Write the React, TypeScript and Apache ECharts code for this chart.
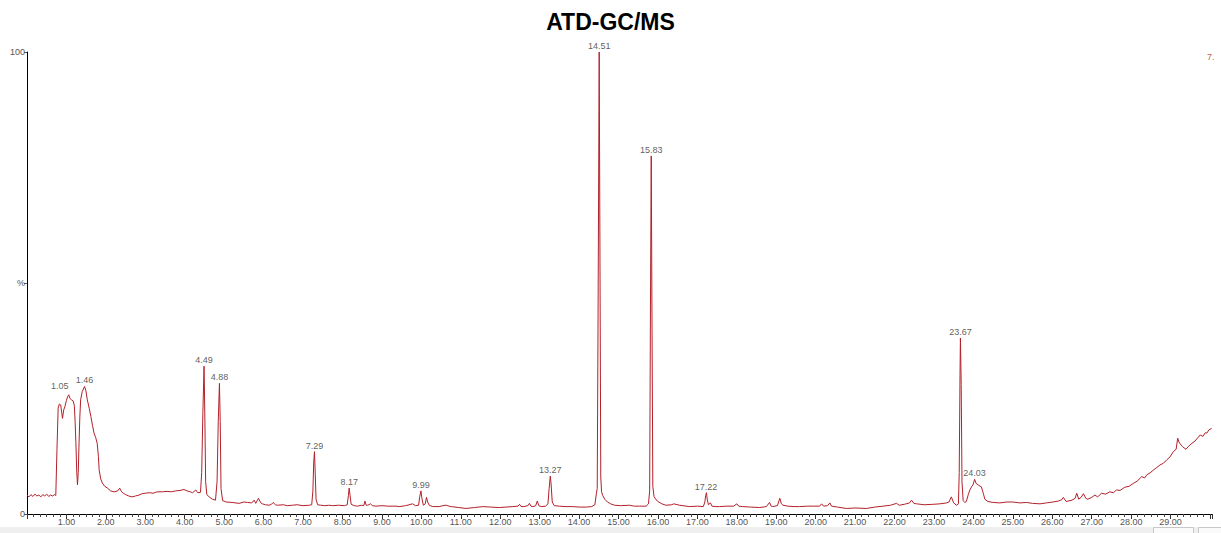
import React, { useEffect, useRef } from "react";
import * as echarts from "echarts";

// Total ion chromatogram: [retention time (min), relative abundance (%)]
const solventFront: [number, number][] = [
  [0.0, 4.1], [0.05, 3.7], [0.1, 4.2], [0.15, 3.8], [0.2, 4.3], [0.25, 3.9], [0.3, 4.1], [0.35, 3.7],
  [0.4, 4.2], [0.45, 3.9], [0.5, 4.3], [0.55, 3.8], [0.6, 4.1], [0.65, 3.9], [0.7, 4.2], [0.73, 4.0],
  [0.76, 14.0], [0.79, 22.9], [0.82, 23.8], [0.855, 23.6], [0.88, 22.0], [0.9, 20.7], [0.93, 22.5],
  [0.96, 23.2], [1.0, 24.6], [1.03, 25.4], [1.06, 25.8], [1.09, 25.0], [1.13, 24.7], [1.17, 24.5],
  [1.2, 23.5], [1.22, 20.0], [1.24, 15.4], [1.26, 9.5], [1.28, 6.3], [1.3, 9.0], [1.32, 15.4],
  [1.34, 21.0], [1.36, 24.7], [1.4, 26.5], [1.46, 27.6], [1.49, 26.8], [1.53, 24.7], [1.58, 22.8],
  [1.62, 21.1], [1.66, 19.2], [1.7, 17.5], [1.74, 16.6], [1.78, 15.3], [1.81, 12.5], [1.83, 9.5],
  [1.87, 7.6], [1.91, 6.7], [1.97, 6.0], [2.04, 5.6], [2.12, 5.0], [2.21, 4.8], [2.3, 5.0],
  [2.35, 5.6], [2.4, 4.8], [2.44, 4.5],
];

const earlyRegion: [number, number][] = [
  [2.5, 4.2], [2.58, 3.9], [2.67, 3.7], [2.75, 3.9], [2.84, 4.1], [2.92, 4.4], [3.0, 4.5], [3.1, 4.6],
  [3.2, 4.5], [3.3, 4.8], [3.43, 4.8], [3.55, 4.9], [3.66, 4.8], [3.77, 5.0], [3.88, 5.1], [3.98, 5.3],
  [4.06, 5.0], [4.14, 4.8], [4.2, 4.6], [4.28, 5.2], [4.33, 4.6], [4.4, 4.7], [4.43, 9.0], [4.46, 22.0],
  [4.49, 32.0], [4.51, 21.0], [4.53, 7.0], [4.56, 4.2], [4.62, 3.7], [4.7, 3.2], [4.78, 3.0],
  [4.82, 7.0], [4.85, 20.0], [4.88, 28.3], [4.9, 20.0], [4.92, 5.5], [4.96, 2.9], [5.05, 2.6],
  [5.2, 2.5], [5.38, 2.3], [5.5, 2.6], [5.59, 2.5], [5.7, 2.4], [5.76, 3.0], [5.8, 2.3], [5.87, 3.4],
  [5.93, 2.4], [5.97, 2.2], [6.05, 2.0], [6.14, 1.9], [6.2, 2.1], [6.24, 2.5], [6.3, 2.0], [6.35, 1.9],
  [6.5, 2.0], [6.6, 1.8], [6.73, 1.9], [6.85, 2.0], [7.0, 1.8], [7.16, 1.9],
];

const midRegion: [number, number][] = [
  [7.22, 2.0], [7.25, 5.0], [7.27, 11.0], [7.29, 13.5], [7.31, 8.5], [7.33, 3.2], [7.37, 2.0],
  [7.45, 1.9], [7.55, 1.8], [7.65, 1.9], [7.75, 1.8], [7.9, 1.9], [8.05, 1.8], [8.12, 2.0], [8.15, 4.0],
  [8.17, 5.6], [8.19, 4.2], [8.22, 2.1], [8.3, 1.8], [8.38, 1.7], [8.48, 1.9], [8.54, 1.8], [8.57, 2.8],
  [8.6, 1.9], [8.64, 1.9], [8.71, 2.2], [8.76, 1.8], [8.85, 1.7], [9.0, 1.8], [9.15, 1.7], [9.36, 1.7],
  [9.44, 1.6], [9.6, 1.8], [9.78, 2.2], [9.85, 1.8], [9.93, 1.9], [9.96, 3.8], [9.99, 5.0], [10.01, 3.6],
  [10.05, 1.9], [10.1, 2.2], [10.13, 3.6], [10.16, 2.6], [10.2, 1.9], [10.29, 1.6], [10.45, 1.6],
  [10.6, 1.9], [10.63, 1.9], [10.7, 1.7], [10.76, 1.6], [10.95, 1.4], [11.13, 1.2], [11.35, 1.4],
  [11.56, 1.6], [11.75, 1.5], [11.98, 1.4], [12.15, 1.5], [12.32, 1.6], [12.45, 1.7], [12.49, 2.1],
  [12.53, 1.6], [12.6, 1.6], [12.7, 1.8], [12.74, 2.3], [12.78, 1.7], [12.83, 1.6], [12.9, 1.8],
  [12.94, 2.8], [12.98, 1.8], [13.04, 1.6], [13.15, 1.7],
];

const mainPeaks: [number, number][] = [
  [13.21, 2.2], [13.24, 5.5], [13.27, 8.2], [13.29, 6.5], [13.32, 2.6], [13.37, 1.8], [13.5, 1.7],
  [13.67, 1.6], [13.85, 1.6], [14.0, 1.5], [14.18, 1.5], [14.32, 1.6], [14.4, 2.0], [14.44, 4.5],
  [14.46, 5.5], [14.48, 40.0], [14.51, 100], [14.53, 55.0], [14.55, 8.0], [14.57, 4.8], [14.6, 4.0],
  [14.65, 3.2], [14.72, 2.6], [14.8, 2.2], [14.9, 1.9], [15.05, 1.8], [15.28, 1.9], [15.4, 1.7],
  [15.53, 1.7], [15.7, 1.7], [15.76, 2.2], [15.79, 5.0], [15.81, 45.0], [15.83, 77.5], [15.85, 40.0],
  [15.87, 6.0], [15.9, 3.8], [15.95, 3.1], [16.02, 2.6], [16.1, 2.2], [16.2, 1.9], [16.35, 2.0],
  [16.4, 2.2], [16.55, 1.9], [16.8, 1.6], [17.0, 1.7], [17.15, 1.6],
];

const lateRegion: [number, number][] = [
  [17.19, 2.6], [17.21, 4.0], [17.23, 4.6], [17.25, 3.2], [17.28, 2.0], [17.33, 2.4], [17.37, 1.7],
  [17.45, 1.6], [17.56, 1.6], [17.75, 1.7], [17.92, 1.7], [18.0, 2.2], [18.05, 1.7], [18.15, 1.6],
  [18.35, 1.5], [18.58, 1.4], [18.75, 1.6], [18.83, 2.5], [18.87, 1.7], [18.91, 1.6], [19.03, 1.8],
  [19.09, 3.4], [19.13, 2.2], [19.17, 1.9], [19.3, 1.7], [19.45, 1.6], [19.59, 1.6], [19.8, 1.7],
  [19.95, 1.7], [20.1, 1.7], [20.15, 2.2], [20.2, 1.7], [20.3, 1.8], [20.36, 2.4], [20.4, 1.7],
  [20.55, 1.5], [20.78, 1.2], [21.0, 1.3], [21.29, 1.2], [21.5, 1.5], [21.71, 1.7], [21.9, 1.9],
  [22.05, 2.3], [22.12, 1.9], [22.25, 2.1], [22.38, 2.4], [22.43, 3.0], [22.49, 2.3], [22.56, 2.2],
  [22.75, 2.0], [22.98, 2.1], [23.15, 2.2], [23.32, 2.4], [23.38, 2.6], [23.44, 3.7], [23.5, 2.4],
  [23.57, 1.9],
];

const columnBleed: [number, number][] = [
  [23.62, 2.2], [23.64, 9.0], [23.66, 30.0], [23.67, 38.1], [23.69, 28.0], [23.71, 7.0], [23.74, 2.9],
  [23.78, 2.5], [23.82, 2.7], [23.87, 4.2], [23.91, 5.2], [23.96, 6.0], [23.99, 6.3], [24.03, 7.5],
  [24.07, 6.6], [24.12, 6.3], [24.17, 6.0], [24.2, 5.9], [24.25, 4.5], [24.29, 3.2], [24.37, 2.7],
  [24.5, 2.5], [24.67, 2.4], [24.85, 2.6], [25.0, 2.6], [25.18, 2.4], [25.35, 2.5], [25.5, 2.3],
  [25.69, 2.2], [25.85, 2.4], [26.02, 2.6], [26.15, 2.8], [26.24, 3.1], [26.28, 3.6], [26.35, 2.7],
  [26.5, 3.0], [26.58, 3.4], [26.62, 4.5], [26.67, 3.2], [26.73, 3.6], [26.79, 4.4], [26.85, 3.4],
  [26.9, 3.2], [27.0, 3.6], [27.08, 4.1], [27.15, 3.7], [27.25, 4.5], [27.35, 4.3], [27.46, 4.8],
  [27.55, 4.6], [27.63, 5.2], [27.72, 5.1], [27.84, 5.8], [27.95, 6.0], [28.05, 6.6], [28.15, 7.1],
  [28.27, 8.1], [28.34, 7.8], [28.4, 8.5], [28.48, 8.9], [28.56, 9.5], [28.64, 10.0], [28.73, 10.6],
  [28.82, 11.0], [28.9, 11.7], [28.98, 12.3], [29.07, 13.5], [29.14, 14.0], [29.18, 16.4],
  [29.21, 15.6], [29.24, 15.2], [29.3, 14.6], [29.39, 14.0], [29.46, 14.7], [29.54, 15.3],
  [29.62, 15.8], [29.68, 16.4], [29.75, 17.1], [29.82, 16.8], [29.88, 17.6], [29.92, 17.5],
  [29.97, 18.2], [30.04, 18.5],
];

// Labelled peaks
const peakLabels = ["1.05", "1.46", "4.49", "4.88", "7.29", "8.17", "9.99", "13.27", "14.51", "15.83", "17.22", "23.67", "24.03"];
const peakTimes = [1.06, 1.46, 4.49, 4.88, 7.29, 8.17, 9.99, 13.27, 14.51, 15.83, 17.22, 23.67, 24.03];
const peakHeights = [25.8, 27.6, 32.0, 28.3, 13.5, 5.6, 5.0, 8.2, 100, 77.5, 4.6, 38.1, 7.5];

// Axis ticks
const yTickLabels: Record<number, string> = { 0: "0", 50: "%", 100: "100" };
const xMin = 0;
const xMax = 30.05;

export default function App() {
  const ref = useRef<HTMLDivElement>(null);

  useEffect(() => {
    document.body.style.margin = "0";
    if (!ref.current) return;
    const chart = echarts.init(ref.current, undefined, { renderer: "svg" });

    const tic = [...solventFront, ...earlyRegion, ...midRegion, ...mainPeaks, ...lateRegion, ...columnBleed];
    const peaks = peakLabels.map((l, i) => {
      const item: any = { value: [peakTimes[i], peakHeights[i], l] };
      if (i === 0) {
        item.label = { offset: [-9, -3] };
      }
      return item;
    });

    const font = "'Liberation Sans', Arial, sans-serif";

    chart.setOption({
      animation: false,
      backgroundColor: "#ffffff",
      title: {
        text: "ATD-GC/MS",
        left: "center",
        top: 5,
        textStyle: { fontSize: 23, fontWeight: "bold", color: "#000", fontFamily: font },
      },
      grid: { left: 27, right: 9, top: 52, bottom: 19, containLabel: false },
      xAxis: {
        type: "value",
        min: xMin,
        max: xMax,
        interval: 1,
        axisLine: { show: true, lineStyle: { color: "#000", width: 1 } },
        axisTick: { show: true, length: 5, lineStyle: { color: "#333", width: 1 } },
        minorTick: { show: true, splitNumber: 6, length: 3, lineStyle: { color: "#444", width: 1 } },
        splitLine: { show: false },
        minorSplitLine: { show: false },
        axisLabel: {
          fontSize: 9,
          color: "#555",
          margin: 3,
          fontFamily: font,
          formatter: (v: number) => (v <= 0 || v >= 30 ? "" : v.toFixed(2)),
        },
      },
      yAxis: {
        type: "value",
        min: 0,
        max: 100,
        interval: 50,
        axisLine: { show: true, lineStyle: { color: "#000", width: 1 } },
        axisTick: { show: true, length: 3, lineStyle: { color: "#555" } },
        splitLine: { show: false },
        axisLabel: {
          fontSize: 9,
          color: "#555",
          margin: 2,
          fontFamily: font,
          formatter: (v: number) => yTickLabels[v] ?? "",
        },
      },
      graphic: [
        { type: "rect", left: 0, top: 527, shape: { width: 1221, height: 6 }, style: { fill: "#efefef" }, silent: true },
        { type: "rect", left: 1153, top: 527, shape: { width: 40, height: 8 }, style: { fill: "#fafafa", stroke: "#c8c8c8", lineWidth: 1 }, silent: true },
        { type: "rect", left: 1198, top: 527, shape: { width: 30, height: 8 }, style: { fill: "#fafafa", stroke: "#c8c8c8", lineWidth: 1 }, silent: true },
        { type: "text", left: 1207, top: 52, style: { text: "7.", fontSize: 9, fill: "#c86060", fontFamily: font } },
      ],
      series: [
        {
          type: "line",
          data: tic,
          showSymbol: false,
          symbol: "none",
          lineStyle: { color: "#b3202a", width: 1 },
          silent: true,
          z: 2,
        },
        {
          type: "scatter",
          data: peaks,
          symbolSize: 1,
          itemStyle: { color: "transparent" },
          silent: true,
          z: 3,
          label: {
            show: true,
            position: "top",
            distance: 1,
            fontSize: 9,
            color: "#333",
            fontFamily: font,
            formatter: (p: any) => p.value[2],
          },
        },
      ],
    });

    return () => chart.dispose();
  }, []);

  return <div ref={ref} style={{ position: "absolute", left: 0, top: 0, width: 1221, height: 533 }} />;
}
